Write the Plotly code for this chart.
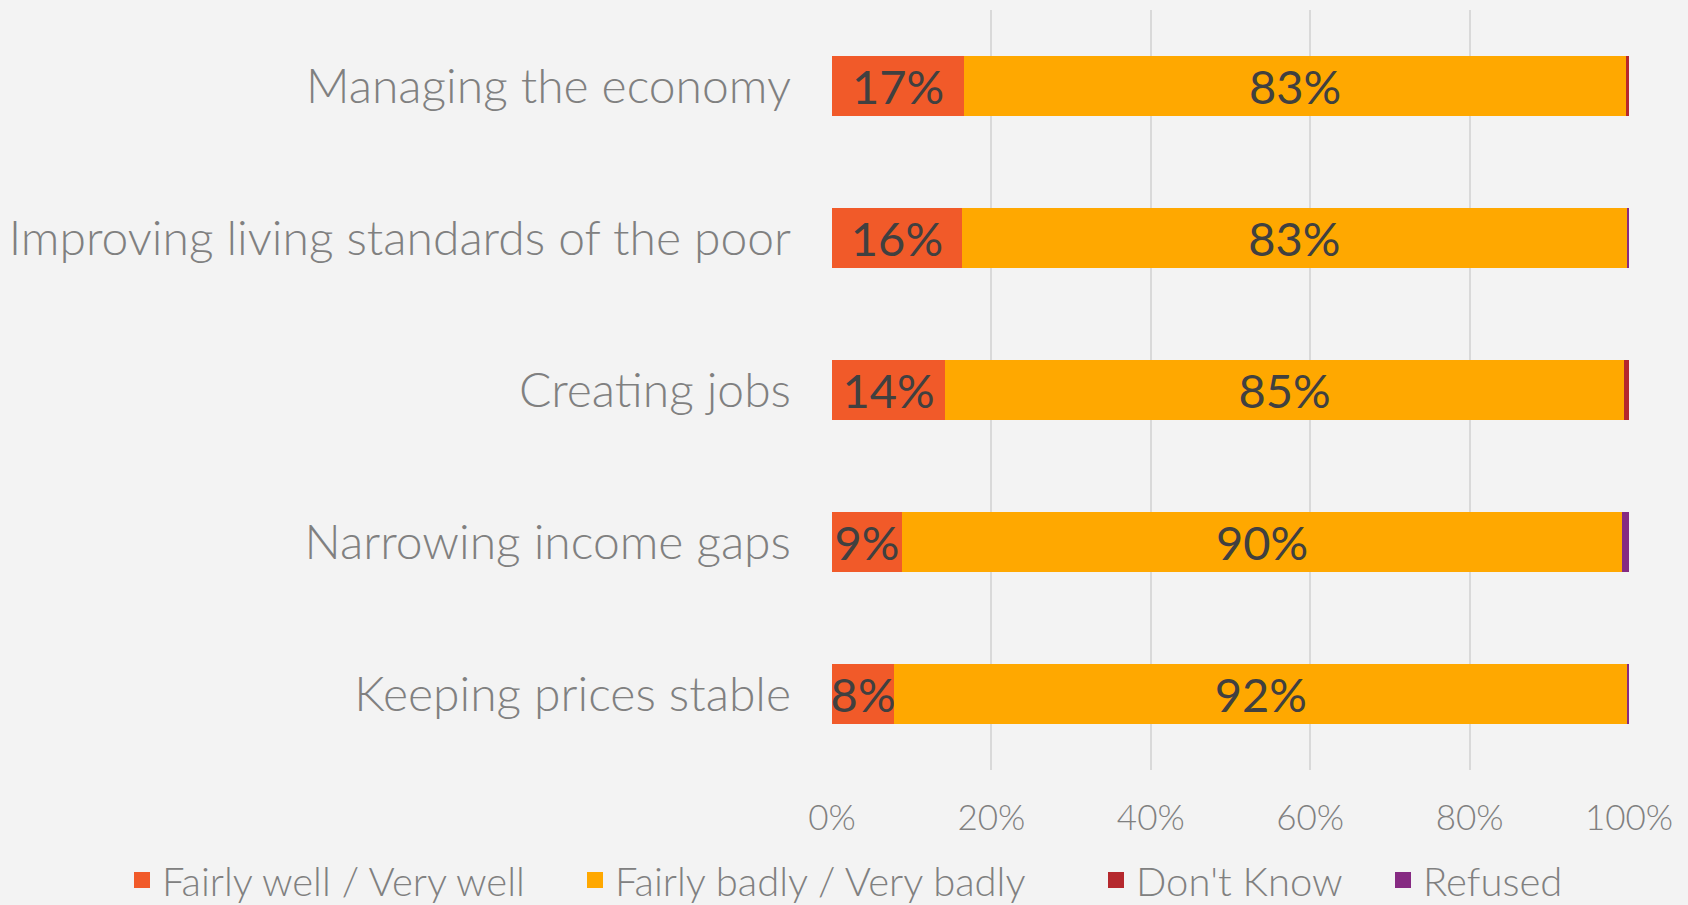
import plotly.graph_objects as go

categories = [
    "Managing the economy",
    "Improving living standards of the poor",
    "Creating jobs",
    "Narrowing income gaps",
    "Keeping prices stable",
]
fairly_well = [16.6, 16.3, 14.2, 8.8, 7.8]
fairly_badly = [83.0, 83.4, 85.2, 90.3, 92.0]
dont_know = [0.4, 0.0, 0.6, 0.0, 0.0]
refused = [0.0, 0.3, 0.0, 0.9, 0.2]

series_names = ["Fairly well / Very well", "Fairly badly / Very badly", "Don't Know", "Refused"]
series_values = [fairly_well, fairly_badly, dont_know, refused]
series_colors = ["#F15A29", "#FFA800", "#B5282D", "#862A82"]
series_labeled = [True, True, False, False]

# legend entry left edges in pixels of the figure (layout only)
legend_left_px = [122, 575, 1096, 1383]

W, H = 1688, 905
ML, MR, MT, MB = 832, 59, 10, 135
PW, PH = W - ML - MR, H - MT - MB

FONT = "Lato"
fig = go.Figure()
for i, (name, vals, color, labeled) in enumerate(zip(series_names, series_values, series_colors, series_labeled)):
    fig.add_trace(go.Bar(
        y=categories,
        x=[v / 100 for v in vals],
        name=name,
        legendgroup=name,
        showlegend=False,
        orientation="h",
        marker=dict(color=color, line=dict(width=0)),
        text=[f"{round(v)}%" for v in vals] if labeled else None,
        textposition="inside" if labeled else "none",
        insidetextanchor="middle",
        constraintext="none",
        textfont=dict(family=FONT, size=47, color="#404040"),
        hoverinfo="name+x",
    ))
    lid = "legend" if i == 0 else f"legend{i + 1}"
    fig.add_trace(go.Scatter(
        x=[None], y=[None],
        mode="markers",
        name=name,
        legendgroup=name,
        legend=lid,
        marker=dict(symbol="square", size=21, color=color),
        hoverinfo="skip",
    ))

layout_legends = {}
for i, px in enumerate(legend_left_px):
    lid = "legend" if i == 0 else f"legend{i + 1}"
    layout_legends[lid] = dict(
        orientation="h",
        xref="paper", yref="paper",
        x=(px - ML) / PW, xanchor="left",
        y=-(880 - (H - MB)) / PH, yanchor="middle",
        font=dict(family=FONT, size=40, color="#808080", weight=300),
        itemwidth=30,
        bgcolor="rgba(0,0,0,0)",
        borderwidth=0,
    )

fig.update_layout(
    barmode="stack",
    bargap=0.6,
    width=W,
    height=H,
    margin=dict(l=ML, r=MR, t=MT, b=MB, autoexpand=False),
    paper_bgcolor="#F3F3F3",
    plot_bgcolor="#F3F3F3",
    font=dict(family=FONT, color="#808080"),
    showlegend=True,
    xaxis=dict(
        range=[0, 1],
        tickvals=[0, 0.2, 0.4, 0.6, 0.8, 1.0],
        tickformat=".0%",
        showgrid=True,
        gridcolor="#D9D9D9",
        gridwidth=2,
        zeroline=False,
        showline=False,
        tickfont=dict(family=FONT, size=35, color="#808080", weight=300),
        ticklabelstandoff=24,
    ),
    yaxis=dict(
        autorange="reversed",
        showgrid=False,
        showline=False,
        ticks="",
        tickfont=dict(family=FONT, size=48, color="#808080", weight=300),
        ticklabelstandoff=40,
    ),
    **layout_legends,
)

fig.write_html(
    "out.html",
    config={"displayModeBar": False},
    post_script="document.body.style.margin='0';document.body.style.overflow='hidden';",
)
